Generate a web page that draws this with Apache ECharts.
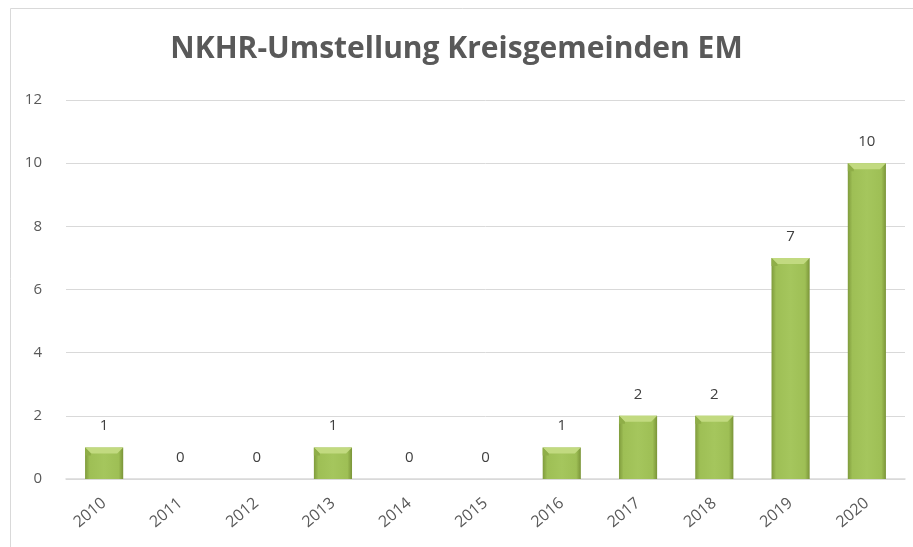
<!DOCTYPE html>
<html>
<head>
<meta charset="utf-8">
<script src="https://cdn.jsdelivr.net/npm/echarts@6/dist/echarts.min.js"></script>
<style>
  html, body { margin: 0; padding: 0; background: #fff; }
  #chart { width: 913px; height: 547px; }
</style>
</head>
<body>
<div id="chart"></div>
<script>
// Jahre und Anzahl umgestellter Gemeinden
const years = ["2010", "2011", "2012", "2013", "2014", "2015", "2016", "2017", "2018", "2019", "2020"];
const counts = [1, 0, 0, 1, 0, 0, 1, 2, 2, 7, 10];

const chart = echarts.init(document.getElementById("chart"));

// Balken mit leichtem Relief (dunklere Kanten)
const barColor = new echarts.graphic.LinearGradient(0, 0, 1, 0, [
  { offset: 0, color: "#7f9b3c" },
  { offset: 0.12, color: "#9ebf55" },
  { offset: 0.5, color: "#a5c65d" },
  { offset: 0.88, color: "#9ebf55" },
  { offset: 1, color: "#7a9438" }
]);

// obere Abschrägung der Balken
function bevel(params, api) {
  const v = api.value(1);
  if (!v) return null;
  const top = api.coord([api.value(0), v]);
  const w = api.size([1, 0])[0] * 0.5;
  const x0 = top[0] - w / 2, x1 = top[0] + w / 2, y = top[1], d = 6;
  return {
    type: "group",
    children: [{
      type: "polygon",
      shape: { points: [[x0, y], [x1, y], [x1 - d, y + d], [x0 + d, y + d]] },
      style: { fill: "#c2da80" }
    }, {
      type: "polygon",
      shape: { points: [[x0, y], [x0 + d, y + d], [x0 + d, y + d + 2], [x0, y + d + 2]] },
      style: { fill: "#8fae48" }
    }]
  };
}

chart.setOption({
  textStyle: { fontFamily: "Open Sans" },
  title: {
    text: "NKHR-Umstellung Kreisgemeinden EM",
    left: "center",
    top: 29,
    textStyle: { fontSize: 30, fontWeight: "bold", color: "#595959", fontFamily: "Open Sans" }
  },
  graphic: [{
    type: "rect",
    shape: { x: 10.5, y: 8.5, width: 920, height: 560 },
    style: { fill: "none", stroke: "#d9d9d9", lineWidth: 1 },
    silent: true
  }],
  grid: { left: 66, right: 8, top: 100, bottom: 68 },
  xAxis: {
    type: "category",
    data: years,
    axisTick: { show: false },
    axisLine: { lineStyle: { color: "#d9d9d9", width: 1.5 } },
    axisLabel: { rotate: 40, color: "#595959", fontSize: 16, margin: 22 }
  },
  yAxis: {
    type: "value",
    min: 0,
    max: 12,
    interval: 2,
    axisLine: { show: false },
    axisTick: { show: false },
    splitLine: { lineStyle: { color: "#d9d9d9" } },
    axisLabel: { color: "#595959", fontSize: 15, margin: 24 }
  },
  series: [{
    type: "bar",
    data: counts,
    barWidth: "50%",
    itemStyle: { color: barColor, borderWidth: 0 },
    label: {
      show: true,
      position: "top",
      distance: 14,
      color: "#404040",
      fontSize: 15
    }
  }, {
    type: "custom",
    data: counts.map((v, i) => [i, v]),
    renderItem: bevel,
    silent: true,
    z: 3
  }]
});
</script>
</body>
</html>
